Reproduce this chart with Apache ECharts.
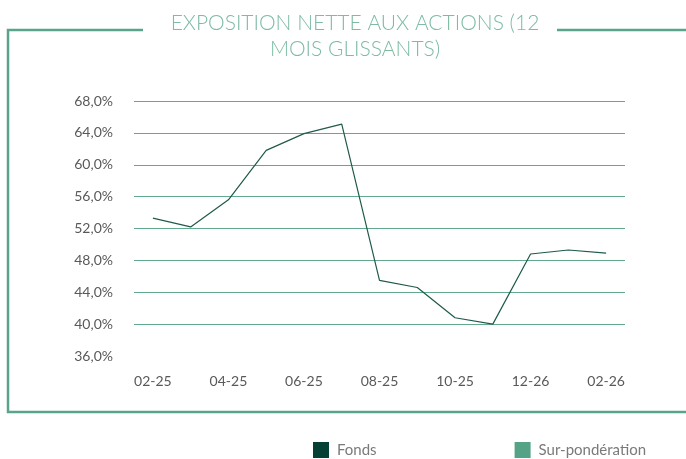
<!DOCTYPE html>
<html lang="fr">
<head>
<meta charset="UTF-8">
<title>Exposition nette aux actions</title>
<script src="https://cdn.jsdelivr.net/npm/echarts@6/dist/echarts.min.js"></script>
<style>
  body { margin: 0; background: #fff; }
  #chart { width: 686px; height: 459px; }
</style>
</head>
<body>
<div id="chart"></div>
<script>
  // mois (une étiquette sur deux affichée)
  const months = ['02-25', '03-25', '04-25', '05-25', '06-25', '07-25', '08-25',
    '09-25', '10-25', '11-25', '12-26', '01-26', '02-26'];
  const fonds = [53.3, 52.2, 55.6, 61.8, 63.9, 65.1, 45.5, 44.6, 40.8, 40.0, 48.8, 49.3, 48.9];
  const surPonderation = [];

  const frameColor = '#5aa58a';
  const chart = echarts.init(document.getElementById('chart'));

  chart.setOption({
    animation: false,
    title: {
      text: 'EXPOSITION NETTE AUX ACTIONS (12\nMOIS GLISSANTS)',
      left: 350, top: 5, textAlign: 'center',
      textStyle: { fontFamily: 'Lato', fontWeight: 300, fontSize: 21, lineHeight: 26, color: '#7dbba3' }
    },
    grid: { left: 134, right: 61, top: 101, bottom: 103 },
    legend: {
      left: 313, top: 442, padding: 0,
      itemWidth: 16, itemHeight: 16, itemGap: 138,
      icon: 'rect',
      textStyle: { fontFamily: 'Lato', fontSize: 15, color: '#7a7a7a', padding: [0, 0, 0, 3] },
      data: ['Fonds', 'Sur-pondération']
    },
    xAxis: {
      type: 'category',
      data: months,
      axisLine: { show: false },
      axisTick: { show: false },
      axisLabel: { interval: 1, margin: 18, fontFamily: 'Lato', fontSize: 14, color: '#595959' }
    },
    yAxis: {
      type: 'value',
      min: 36, max: 68, interval: 4,
      axisLabel: {
        margin: 21, fontFamily: 'Lato', fontSize: 14, color: '#595959',
        formatter: v => v.toFixed(1).replace('.', ',') + '%'
      },
      splitLine: { showMinLine: false, lineStyle: { color: '#62a98e', width: 1 } }
    },
    series: [
      {
        name: 'Fonds', type: 'line', data: fonds,
        symbol: 'none',
        itemStyle: { color: '#063f33' },
        lineStyle: { color: '#1f5a4b', width: 1.2 }
      },
      {
        name: 'Sur-pondération', type: 'bar', data: surPonderation,
        itemStyle: { color: '#55a386' }
      }
    ],
    graphic: [
      {
        type: 'polyline',
        shape: { points: [[143, 30], [8, 30], [8, 412], [686, 412]] },
        style: { stroke: frameColor, lineWidth: 2.5, fill: null }
      },
      {
        type: 'line',
        shape: { x1: 557, y1: 30, x2: 686, y2: 30 },
        style: { stroke: frameColor, lineWidth: 2.5 }
      }
    ]
  });
</script>
</body>
</html>
